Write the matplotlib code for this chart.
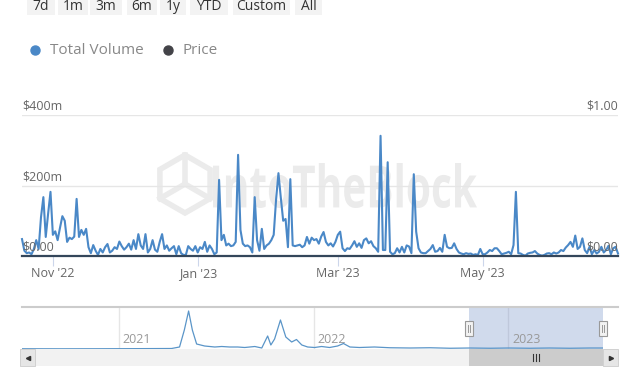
import matplotlib
matplotlib.use('Agg')
import matplotlib.pyplot as plt
import matplotlib.dates as mdates
from matplotlib.patches import Rectangle, RegularPolygon, PathPatch
from matplotlib.lines import Line2D
from matplotlib.textpath import TextPath
from matplotlib.font_manager import FontProperties
from matplotlib.transforms import Affine2D
import pandas as pd

W, H = 640, 367

# daily total volume in $m, 19 Oct 2022 .. 27 Jun 2023
volume = [
    48, 15, 8, 10, 5, 20, 45, 20, 110, 167,
    54, 120, 182, 60, 70, 45, 80, 113, 100, 40,
    52, 48, 55, 162, 54, 74, 60, 77, 25, 8,
    31, 15, 3, 20, 10, 25, 34, 10, 15, 25,
    20, 41, 28, 18, 25, 35, 18, 45, 20, 62,
    30, 20, 62, 10, 20, 45, 18, 12, 40, 62,
    20, 30, 15, 22, 28,
    5, 28, 8, 3, 3, 28, 20, 15, 28, 10,
    25, 20, 40, 12, 30, 20, 5, 10, 216, 45,
    60, 30, 35, 28, 30, 40, 287, 74, 35, 28,
    30, 25, 10, 167, 45, 15, 77, 20, 30, 35,
    45, 60, 160, 235, 165, 100, 105, 25, 218, 30,
    28, 30, 32, 25, 30, 54, 35, 52, 45, 48,
    35, 55, 68, 40, 30,
    36, 27, 40, 60, 69, 22, 14, 22, 20, 30,
    42, 26, 36, 23, 45, 50, 36, 42, 28, 22,
    12, 341, 17, 17, 266, 12, 5, 8, 22, 10,
    26, 10, 30, 27, 8, 232, 69, 22, 10, 8,
    8, 14, 20, 31, 12, 14, 23, 12, 60, 26,
    22, 23, 36, 20, 10, 7, 5, 8, 6, 7,
    3, 5, 3, 20, 5,
    5, 10, 17, 14, 22, 22, 14, 5, 7, 9,
    12, 5, 31, 182, 8, 7, 3, 1, 7, 9,
    10, 14, 7, 3, 1, 3, 7, 8, 5, 10,
    7, 10, 17, 14, 24, 31, 40, 26, 58, 20,
    26, 50, 17, 8, 26, 5, 17, 7, 12, 26,
    10, 17, 29, 5, 22, 26, 7,
]
dates = pd.date_range('2022-10-19', periods=len(volume), freq='D')

price_dates = pd.to_datetime(['2022-10-19', '2022-12-01', '2023-02-01',
                              '2023-04-01', '2023-06-27'])
price = [0.0, 0.0, 0.0, 0.0, 0.0]

tick_dates = pd.to_datetime(['2022-11-01', '2023-01-01', '2023-03-01', '2023-05-01'])
tick_labels = ["Nov '22", "Jan '23", "Mar '23", "May '23"]
y_ticks = [0, 200, 400]
y_labels = ['$0.00', '$200m', '$400m']
p_ticks = [0, 1]
p_labels = ['$0.00', '$1.00']

# navigator (overview) series
nav_dates = pd.to_datetime([
    '2020-07-04', '2020-09-13', '2020-11-27', '2021-02-09', '2021-04-10',
    '2021-04-25', '2021-05-04', '2021-05-12', '2021-05-19', '2021-05-27',
    '2021-06-11', '2021-06-30', '2021-07-13', '2021-07-28', '2021-08-12',
    '2021-08-25', '2021-09-13', '2021-09-26', '2021-10-07', '2021-10-13',
    '2021-10-20', '2021-10-31', '2021-11-10', '2021-11-21', '2021-11-30',
    '2021-12-10', '2021-12-21', '2022-01-03', '2022-01-16', '2022-01-31',
    '2022-02-15', '2022-02-26', '2022-03-10', '2022-03-28', '2022-04-25',
    '2022-05-24', '2022-07-01', '2022-08-07', '2022-09-14', '2022-10-21',
    '2022-11-28', '2023-01-01', '2023-02-10', '2023-03-19', '2023-04-26',
    '2023-06-02', '2023-06-27'])
nav_volume = [
    10, 8, 10, 15, 20,
    80, 760, 1520, 760, 200,
    120, 80, 100, 80, 80,
    60, 100, 40, 520, 160,
    400, 1160, 480, 280, 380,
    160, 80, 60, 100, 60,
    120, 220, 80, 60, 80,
    50, 40, 50, 30, 40,
    30, 40, 30, 40, 30,
    40, 40]
nav_years = pd.to_datetime(['2021-01-01', '2022-01-01', '2023-01-01'])
nav_year_labels = ['2021', '2022', '2023']

buttons = ['7d', '1m', '3m', '6m', '1y', 'YTD', 'Custom', 'All']
button_boxes = [(27, 55), (58, 88), (90, 122), (127, 157), (160, 186),
                (190, 228), (233, 290), (295, 322)]

blue = '#4a88c7'
dark = '#34465a'

plt.rcParams['font.family'] = ['Open Sans', 'DejaVu Sans']

fig = plt.figure(figsize=(W / 100, H / 100), dpi=100)
pix = Affine2D().scale(1.0 / W, -1.0 / H).translate(0, 1) + fig.transFigure


def ax_box(x0, y0, x1, y1):
    return fig.add_axes([x0 / W, 1 - y1 / H, (x1 - x0) / W, (y1 - y0) / H])


# range selector buttons
for lab, (x0, x1) in zip(buttons, button_boxes):
    fig.add_artist(Rectangle((x0, -5), x1 - x0, 20, transform=pix,
                             facecolor='#f3f3f3', edgecolor='none'))
    fig.text((x0 + x1) / 2 / W, 1 - 10.5 / H, lab, ha='center', va='baseline',
             fontsize=10, color='#333333')

# legend
fig.add_artist(Line2D([35], [50], transform=pix, marker='o', ms=6.5,
                      color=blue, linestyle='none'))
fig.text(50 / W, 1 - 50 / H, 'Total Volume', ha='left', va='center',
         fontsize=11, color='#888888')
fig.add_artist(Line2D([168], [50], transform=pix, marker='o', ms=6.5,
                      color='#434348', linestyle='none'))
fig.text(182 / W, 1 - 50 / H, 'Price', ha='left', va='center',
         fontsize=11, color='#888888')

# main chart
ax = ax_box(22, 115, 618, 256)
ax.set_xlim(dates[0], dates[-1])
ax.set_ylim(0, 400)

# watermark
wm = '#ebebeb'
tp = TextPath((0, 0), 'IntoTheBlock', size=40,
              prop=FontProperties(family='Open Sans', weight='bold'))
bb = tp.get_extents()
wt = (Affine2D().translate(-bb.x0, -bb.y0)
      .scale(264 / bb.width, -45 / bb.height).translate(213, 208))
ax.add_artist(PathPatch(tp, transform=wt + pix, facecolor=wm,
                        edgecolor='none', zorder=0.5, clip_on=False))
ax.add_artist(RegularPolygon((185, 184), numVertices=6, radius=29,
                             orientation=0, transform=pix, facecolor='none',
                             edgecolor=wm, lw=4, zorder=0.5, clip_on=False))
for ex, ey in [(185, 155), (160, 198.5), (210, 198.5)]:
    ax.add_artist(Line2D([185, ex], [184, ey], transform=pix, color=wm,
                         lw=4, zorder=0.5, clip_on=False))

for v in y_ticks[1:]:
    ax.axhline(v, color='#e6e6e6', lw=1, zorder=1)
ax.plot(dates, volume, color=blue, lw=1.5, zorder=3, clip_on=False)

for v, lab in zip(y_ticks, y_labels):
    ax.annotate(lab, (0, v), xycoords=ax.get_yaxis_transform(),
                xytext=(0, 1.5), textcoords='offset points', ha='left',
                va='bottom', fontsize=9, color='#666666', zorder=4)

ax.set_xticks(tick_dates)
ax.set_xticklabels(tick_labels)
ax.tick_params(axis='x', length=7, width=0.8, color='#ccd6eb', pad=1,
               labelsize=9, labelcolor='#666666')
ax.set_yticks([])
for s in ax.spines.values():
    s.set_visible(False)

ax2 = ax.twinx()
ax2.set_ylim(0, 1)
ax2.plot(price_dates, price, color=dark, lw=1.6, clip_on=False)
for v, lab in zip(p_ticks, p_labels):
    ax2.annotate(lab, (1, v), xycoords=ax2.get_yaxis_transform(),
                 xytext=(0, 1.5), textcoords='offset points', ha='right',
                 va='bottom', fontsize=9, color='#666666')
ax2.set_yticks([])
for s in ax2.spines.values():
    s.set_visible(False)

# navigator
nx0, nx1 = 22, 603
nav = ax_box(nx0, 307, nx1, 349)
nav.set_xlim(nav_dates[0], nav_dates[-1])
nav.set_ylim(0, 1680)
for d, lab in zip(nav_years, nav_year_labels):
    nav.axvline(d, color='#e6e6e6', lw=1, zorder=1)
    nav.annotate(lab, (mdates.date2num(d), 0), xycoords=nav.get_xaxis_transform(),
                 xytext=(3, 2), textcoords='offset points', ha='left',
                 va='bottom', fontsize=9, color='#999999')
nav.axvspan(dates[0], dates[-1], color=(102 / 255, 133 / 255, 194 / 255),
            alpha=0.3, lw=0, zorder=2)
nav.plot(nav_dates, nav_volume, color='#5a95c8', lw=0.9, zorder=3)
nav.set_xticks([])
nav.set_yticks([])
for s in nav.spines.values():
    s.set_visible(False)
fig.add_artist(Line2D([22, 618], [307, 307], transform=pix, color='#cccccc', lw=1.5))

n0, n1 = mdates.date2num(nav_dates[0]), mdates.date2num(nav_dates[-1])
sel = [nx0 + (mdates.date2num(d) - n0) / (n1 - n0) * (nx1 - nx0)
       for d in (dates[0], dates[-1])]

# scrollbar
fig.add_artist(Rectangle((20, 349), 598, 17, transform=pix,
                         facecolor='#f2f2f2', edgecolor='none'))
fig.add_artist(Rectangle((sel[0], 349), sel[1] - sel[0], 17, transform=pix,
                         facecolor='#cccccc', edgecolor='none'))
fig.add_artist(Rectangle((20, 349), 15, 17, transform=pix,
                         facecolor='#e6e6e6', edgecolor='#cccccc', lw=0.6))
fig.add_artist(Rectangle((603, 349), 15, 17, transform=pix,
                         facecolor='#e6e6e6', edgecolor='#cccccc', lw=0.6))
fig.add_artist(Line2D([27.5], [357.5], transform=pix, marker='<', ms=3,
                      color='#333333', linestyle='none'))
fig.add_artist(Line2D([610.5], [357.5], transform=pix, marker='>', ms=3,
                      color='#333333', linestyle='none'))
gx = (sel[0] + sel[1]) / 2
for dx in (-3, 0, 3):
    fig.add_artist(Line2D([gx + dx, gx + dx], [354, 361], transform=pix,
                          color='#333333', lw=0.8))

# navigator handles
for hx in sel:
    fig.add_artist(Rectangle((hx - 4, 321), 8, 15, transform=pix,
                             facecolor='#f2f2f2', edgecolor='#999999', lw=0.8))
    for dx in (-1, 1):
        fig.add_artist(Line2D([hx + dx, hx + dx], [325, 332], transform=pix,
                              color='#999999', lw=0.7))

fig.savefig('out.png', dpi=100)
